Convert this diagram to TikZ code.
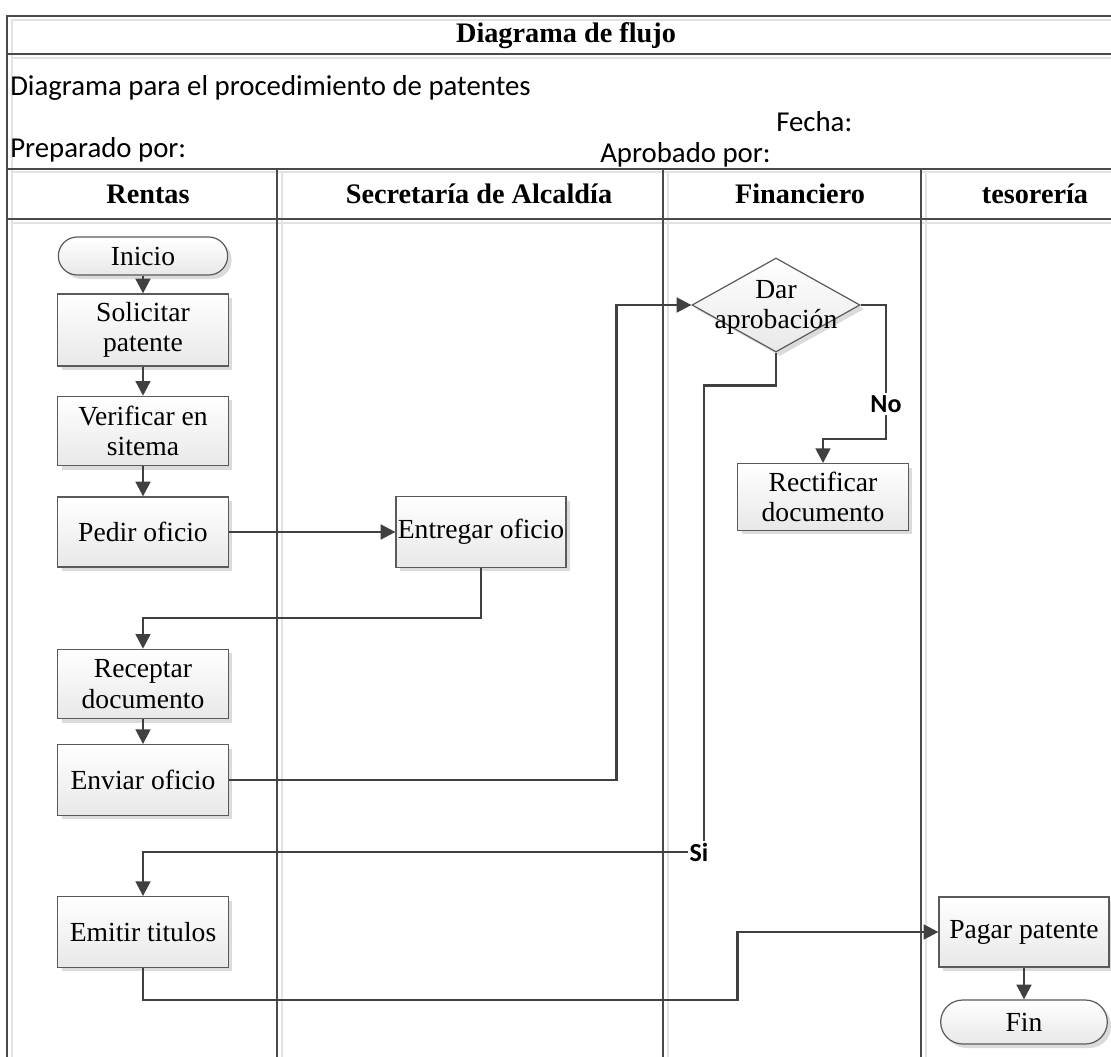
\documentclass[tikz,border=0pt]{standalone}
\usepackage{fontspec}
\setmainfont{Liberation Serif}
\newfontfamily\sansf{Carlito}
\usetikzlibrary{arrows.meta,shapes.geometric,shapes.misc,shadows,calc}
\definecolor{lc}{HTML}{404040}
\definecolor{fc}{HTML}{4A4A4A}
\definecolor{lg}{HTML}{E2E2E2}
\definecolor{bc}{HTML}{5A5A5A}
\begin{document}
\begin{tikzpicture}[x=0.75pt,y=-0.75pt,
  frame/.style={draw=fc, line width=1.4pt},
  light/.style={draw=lg, line width=1.5pt},
  conn/.style={draw=lc, line width=1.9pt, -{Triangle[length=11pt,width=11pt]}},
  base/.style={draw=bc, line width=0.9pt, top color=white, bottom color=black!9, align=center, font=\fontsize{20.7}{23}\selectfont, inner sep=1pt, drop shadow={shadow xshift=3pt, shadow yshift=-3pt, fill=black!14, opacity=1}},
  box/.style={base, rectangle, minimum width=128pt, minimum height=53pt},
  term/.style={base, rounded rectangle, minimum width=129pt, minimum height=28.5pt},
  dec/.style={base, diamond, minimum width=126pt, minimum height=70.5pt, inner sep=0pt},
  hdr/.style={font=\fontsize{21.2}{24}\selectfont\bfseries, inner sep=0pt},
  stxt/.style={font=\sansf\fontsize{21.6}{24}\selectfont, inner sep=0pt, anchor=west},
  lbl/.style={font=\sansf\bfseries\fontsize{19.5}{21}\selectfont, fill=white, inner sep=1.5pt},
  ntxt/.style={font=\fontsize{20.7}{22.5}\selectfont, align=center, inner sep=0pt},
]
\useasboundingbox (0,0) rectangle (1111,1057);
\fill[white] (0,0) rectangle (1111,1057);

% light companion lines
\draw[light] (11,20) -- (1111,20);
\draw[light] (11,58) -- (1111,58);
\draw[light] (11,172) -- (1111,172);
\draw[light] (11,223) -- (1111,223);
\draw[light] (12,20) -- (12,1057);
\draw[light] (282,172) -- (282,1057);
\draw[light] (668,172) -- (668,1057);
\draw[light] (926,172) -- (926,1057);

% frame
\draw[frame] (1111,16) -- (7,16) -- (7,1057);
\draw[frame] (7,54) -- (1111,54);
\draw[frame] (7,169) -- (1111,169);
\draw[frame] (7,219) -- (1111,219);
\draw[frame] (277,169) -- (277,1057);
\draw[frame] (663,169) -- (663,1057);
\draw[frame] (921,169) -- (921,1057);

% header texts
\node[hdr] (title) at (566,36) {Diagrama de flujo};
\node[stxt] (sub) at (10,88) {Diagrama para el procedimiento de patentes};
\node[stxt] (fecha) at (776,122) {Fecha:};
\node[stxt] (aprob) at (600,155) {Aprobado por:};
\node[stxt] (prep) at (10,150) {Preparado por:};
\node[hdr] (h1) at (148,194) {Rentas};
\node[hdr] (h2) at (479,194) {Secretaría de Alcaldía};
\node[hdr] (h3) at (800,194) {Financiero};
\node[hdr] (h4) at (1035,194) {tesorería};

% nodes
\node[term] (inicio) at (143,256) {Inicio};
\node[box, minimum height=54pt] (sol) at (143,330) {Solicitar\\patente};
\node[box, minimum height=52pt] (ver) at (143,431) {Verificar en\\sitema};
\node[box, minimum height=52.5pt] (ped) at (143,532) {Pedir oficio};
\node[box, minimum width=127.5pt, minimum height=53pt] (ent) at (481,532) {Entregar oficio};
\node[box, minimum height=52pt] (rec) at (143,684) {Receptar\\documento};
\node[box, minimum height=53pt] (env) at (143,780) {Enviar oficio};
\node[box, minimum height=53pt] (emi) at (143,932) {Emitir titulos};
\node[dec] (dar) at (776,305) {};
\node[ntxt] (dart) at (776,307) {Dar\\aprobación};
\node[box, minimum height=50pt] (rect) at (823,497) {Rectificar\\documento};
\node[box, minimum width=127.5pt, minimum height=52.5pt] (pag) at (1024,932) {Pagar patente};
\node[term, minimum width=127pt, minimum height=33pt] (fin) at (1024,1022) {Fin};

% connectors
\draw[conn] (inicio.south) -- (sol.north);
\draw[conn] (sol.south) -- (ver.north);
\draw[conn] (ver.south) -- (ped.north);
\draw[conn] (ped.east) -- (ent.west);
\draw[conn] (ent.south) -- ++(0,50) -| (rec.north);
\draw[conn] (rec.south) -- (env.north);
\draw[conn] (env.east) -| ($(dar.west)+(-75,0)$) -- (dar.west);
\coordinate (sic) at (704,852);
\draw[conn] (dar.south) -- ++(0,33) -| (sic) -| (emi.north);
\draw[conn] (dar.east) -| ($(rect.north)+(63,-24)$) -| (rect.north);
\draw[conn] (emi.south) -- ++(0,32) -| ($(pag.west)+(-201,0)$) -- (pag.west);
\draw[conn] (pag.south) -- (fin.north);

% labels
\node[lbl] (si) at (699,852) {Si};
\node[lbl] (no) at (886,404) {No};
\end{tikzpicture}
\end{document}
